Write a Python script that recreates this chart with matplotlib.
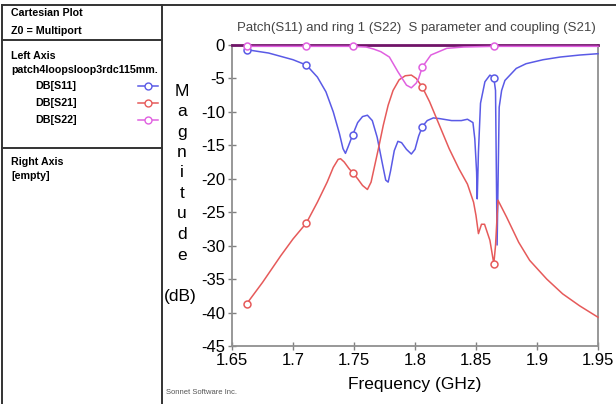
import matplotlib
matplotlib.use("Agg")
from matplotlib import pyplot as plt
from matplotlib.lines import Line2D

plt.rcParams["font.family"] = ["Liberation Sans", "DejaVu Sans"]

# S11 (blue)
s11_freq = [1.662, 1.68, 1.70, 1.711, 1.72, 1.727, 1.733, 1.738, 1.741, 1.743,
            1.745, 1.749, 1.753, 1.757, 1.761, 1.765, 1.769, 1.773, 1.776, 1.778,
            1.780, 1.783, 1.786, 1.789, 1.793, 1.797, 1.800, 1.803, 1.806, 1.810,
            1.815, 1.820, 1.830, 1.838, 1.843, 1.8475, 1.849, 1.8505, 1.851, 1.852,
            1.8537, 1.8573, 1.8614, 1.8646, 1.866, 1.8673, 1.869, 1.871, 1.8737,
            1.883, 1.891, 1.905, 1.919, 1.935, 1.95]
s11_db = [-0.7, -1.2, -2.2, -3.0, -4.8, -7.0, -10.0, -13.2, -15.5, -16.2,
          -15.3, -13.4, -11.6, -10.7, -10.5, -11.3, -13.8, -17.5, -20.2, -20.5,
          -18.8, -15.8, -14.4, -14.6, -15.6, -16.3, -15.6, -13.6, -12.2, -11.3,
          -10.9, -11.0, -11.3, -11.3, -11.1, -11.6, -14.0, -19.0, -23.0, -16.0,
          -8.7, -5.5, -4.5, -4.9, -6.8, -29.9, -9.3, -6.8, -5.3,
          -3.5, -2.8, -2.2, -1.8, -1.5, -1.3]

# S21 (red)
s21_freq = [1.662, 1.675, 1.690, 1.700, 1.711, 1.720, 1.728, 1.733, 1.737, 1.739,
            1.742, 1.746, 1.749, 1.753, 1.757, 1.761, 1.764, 1.767, 1.770, 1.774,
            1.778, 1.782, 1.787, 1.792, 1.797, 1.801, 1.806, 1.812, 1.820, 1.828,
            1.836, 1.843, 1.848, 1.850, 1.852, 1.8545, 1.857, 1.8614, 1.8646, 1.866,
            1.868, 1.875, 1.885, 1.894, 1.908, 1.921, 1.935, 1.95]
s21_db = [-38.7, -35.5, -31.5, -29.0, -26.6, -23.5, -20.5, -18.3, -17.1, -17.0,
          -17.5, -18.5, -19.1, -20.0, -21.0, -21.6, -20.5, -18.0, -15.5, -12.0,
          -9.0, -6.8, -5.2, -4.6, -4.5, -5.0, -6.3, -8.5, -12.0, -15.5,
          -18.5, -20.8, -23.5, -25.5, -28.2, -26.8, -26.8, -29.2, -32.7, -30.0,
          -23.2, -25.7, -29.5, -32.2, -35.0, -37.2, -39.0, -40.7]

# S22 (magenta)
s22_freq = [1.662, 1.70, 1.711, 1.74, 1.749, 1.760, 1.766, 1.772, 1.779, 1.786,
            1.793, 1.797, 1.801, 1.803, 1.806, 1.813, 1.826, 1.840, 1.8646, 1.90, 1.95]
s22_db = [-0.2, -0.2, -0.2, -0.2, -0.2, -0.3, -0.6, -1.0, -1.8, -4.0,
          -6.0, -6.4, -5.7, -5.0, -3.3, -1.5, -0.5, -0.3, -0.2, -0.2, -0.2]

marker_freqs = [1.662, 1.711, 1.749, 1.806, 1.8646]

x_ticks = [1.65, 1.7, 1.75, 1.8, 1.85, 1.9, 1.95]
x_labels = ["1.65", "1.7", "1.75", "1.8", "1.85", "1.9", "1.95"]
y_ticks = [0, -5, -10, -15, -20, -25, -30, -35, -40, -45]

series = [
    ("DB[S11]", s11_freq, s11_db, "#5a5ae6"),
    ("DB[S21]", s21_freq, s21_db, "#e65a5a"),
    ("DB[S22]", s22_freq, s22_db, "#e060e0"),
]

W, H = 616, 404
fig = plt.figure(figsize=(W / 100, H / 100), dpi=100)
ax = fig.add_axes([232 / W, 1 - 346 / H, 366 / W, 301 / H])

for name, fq, db, col in series:
    idx = [fq.index(m) for m in marker_freqs]
    ax.plot(fq, db, color=col, lw=1.1, marker="o", markevery=idx,
            markersize=5, markerfacecolor="white", markeredgecolor=col,
            markeredgewidth=1.1, clip_on=False, zorder=3)

ax.set_xlim(1.65, 1.95)
ax.set_ylim(-45, 0)
ax.set_xticks(x_ticks)
ax.set_xticklabels(x_labels)
ax.set_yticks(y_ticks)
ax.set_yticklabels([str(v) for v in y_ticks])
ax.tick_params(direction="inout", length=6, width=1, color="#808080",
               labelsize=12, pad=2)
for s in ["left", "bottom", "right"]:
    ax.spines[s].set_color("#909090")
    ax.spines[s].set_linewidth(1.3)
ax.spines["top"].set_color("#701468")
ax.spines["top"].set_linewidth(2)

fig.text(416 / W, 1 - 28 / H, "Patch(S11) and ring 1 (S22)  S parameter and coupling (S21)",
         ha="center", va="center", fontsize=9.5, color="#444444")
fig.text(415 / W, 1 - 384 / H, "Frequency (GHz)", ha="center", va="center", fontsize=12.5)
fig.text(166 / W, 1 - 393 / H, "Sonnet Software Inc.", ha="left", va="center",
         fontsize=5.5, color="#555555")

ylab = ["M", "a", "g", "n", "i", "t", "u", "d", "e"]
for i, ch in enumerate(ylab):
    fig.text(182 / W, 1 - (91 + i * 20.5) / H, ch, ha="center", va="center", fontsize=12.5)
fig.text(180 / W, 1 - 297 / H, "(dB)", ha="center", va="center", fontsize=12.5)

# frame lines
frame = [((2, 616), (5, 5)), ((2, 2), (5, 404)), ((162, 162), (5, 404)),
         ((2, 162), (40, 40)), ((2, 162), (148, 148))]
for xs, ys in frame:
    fig.add_artist(Line2D([x / W for x in xs], [1 - y / H for y in ys],
                          color="#333333", lw=1.4, zorder=5))

left_text = [
    (11, 13, "Cartesian Plot"),
    (11, 31, "Z0 = Multiport"),
    (11, 56, "Left Axis"),
    (11, 70, "patch4loopsloop3rdc115mm."),
    (11, 162, "Right Axis"),
    (11, 176, "[empty]"),
]
for x, y, t in left_text:
    fig.text(x / W, 1 - y / H, t, ha="left", va="center", fontsize=7.7,
             fontweight="bold")

for i, (name, fq, db, col) in enumerate(series):
    y = 86 + i * 17
    fig.text(35 / W, 1 - y / H, name, ha="left", va="center", fontsize=7.7,
             fontweight="bold")
    fig.add_artist(Line2D([138 / W, 158 / W], [1 - y / H, 1 - y / H], color=col,
                          lw=1.1))
    fig.add_artist(Line2D([148 / W], [1 - y / H], color=col, marker="o",
                          markersize=5, markerfacecolor="white", markeredgecolor=col,
                          lw=0))

fig.savefig("out.png", dpi=100, facecolor="white")
